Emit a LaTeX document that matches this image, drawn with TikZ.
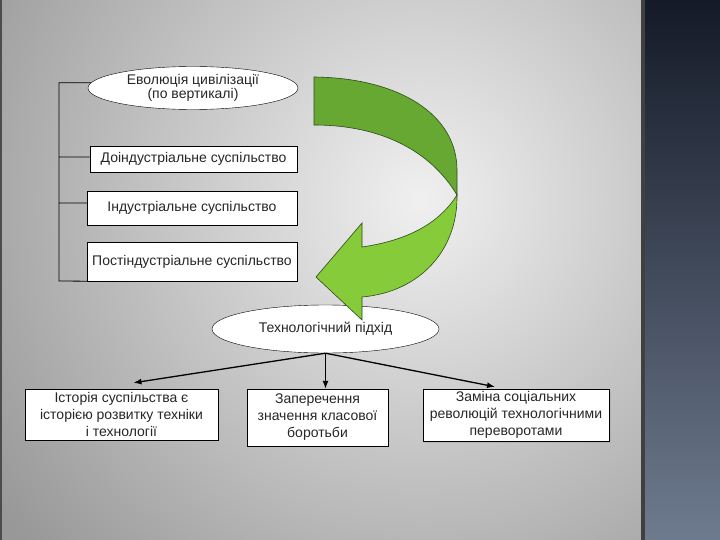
\documentclass[tikz,border=0pt]{standalone}
\usepackage{fontspec}
\setmainfont{Liberation Sans}
\usetikzlibrary{arrows.meta,calc,positioning,shapes.geometric,shadows}
\definecolor{bgmid}{HTML}{F0F0F0}
\definecolor{bgedge}{HTML}{989898}
\definecolor{paneltop}{HTML}{141A27}
\definecolor{panelbot}{HTML}{6E7A8E}
\definecolor{darkgreen}{HTML}{66A832}
\definecolor{lightgreen}{HTML}{86CC3A}
\definecolor{greenline}{HTML}{2E4A18}
\tikzset{
  oval/.style={draw,ellipse,fill=white,inner sep=0pt,align=center},
  block/.style={draw,rectangle,fill=white,inner sep=0pt,align=center},
  bus/.style={line width=0.8pt},
  link/.style={-{Latex[length=8pt,width=6pt]},line width=1.3pt},
  band/.style={draw=greenline,line width=0.6pt}
}

\begin{document}
\begin{tikzpicture}[x=1pt,y=-1pt,font=\fontsize{14}{17}\selectfont,text=black!85]
  \useasboundingbox (0,0) rectangle (720,540);
  \fill[bgedge] (0,0) rectangle (641,540);
  \begin{scope}
    \clip (0,0) rectangle (641,540);
    \shade[inner color=bgmid,outer color=bgedge] (420,200) circle (520);
  \end{scope}
  \shade[top color=paneltop,bottom color=panelbot] (642,0) rectangle (720,540);
  \fill[black!75] (641,0) rectangle (645,540);
  \fill[black!70] (0,0) rectangle (2,540);

  \node[oval,minimum width=210pt,minimum height=43pt] (evo) at (193,88)
    {Еволюція цивілізації\\[-3pt](по вертикалі)};
  \node[block,minimum width=207pt,minimum height=26pt] (pre) at (193.5,159) {Доіндустріальне суспільство};
  \node[block,minimum width=210pt,minimum height=34pt] (ind) at (192,208) {Індустріальне суспільство};
  \node[block,minimum width=210pt,minimum height=39pt] (post) at (192,261.5) {Постіндустріальне суспільство};

  \coordinate (bkt) at (59,281);
  \draw[bus] (evo.177) -| (bkt) -- (post.south west)
    ([yshift=2pt]bkt |- pre.west) -- ([yshift=2pt]pre.west)
    ([yshift=5pt]bkt |- ind.west) -- ([yshift=5pt]ind.west);

  \node[oval,minimum width=227pt,minimum height=48pt] (tech) at (325.5,329) {Технологічний підхід};
  \node[block,minimum width=193pt,minimum height=51pt] (hist) at (121.5,414.5)
    {Історія суспільства є\\історією розвитку техніки\\і технології};
  \node[block,minimum width=141pt,minimum height=57pt] (class) at (317.5,417.5)
    {Заперечення\\значення класової\\боротьби};
  \node[block,drop shadow={shadow xshift=2pt,shadow yshift=-2pt,fill=black!35},
    minimum width=186pt,minimum height=52pt] (rev) at (516,415)
    {Заміна соціальних\\революцій технологічними\\переворотами};

  \draw[link] (tech.south) -- ($(hist.north)+(12,-6)$);
  \draw[link] (tech.south) -- (tech.south |- class.north);
  \draw[link] (tech.south) -- ($(rev.north)+(-21,-2)$);

  \filldraw[band,fill=darkgreen] (314,77) .. controls (400,78) and (457,115) .. (457,170)
    -- (457,195) .. controls (430,150) and (380,125) .. (314,125) -- cycle;
  \filldraw[band,fill=lightgreen] (457,195) .. controls (458,250) and (420,292) .. (362,297)
    -- (362,320) -- (316,277) -- (362,223) -- (362,247)
    .. controls (410,240) and (440,222) .. (457,195) -- cycle;
\end{tikzpicture}
\end{document}
